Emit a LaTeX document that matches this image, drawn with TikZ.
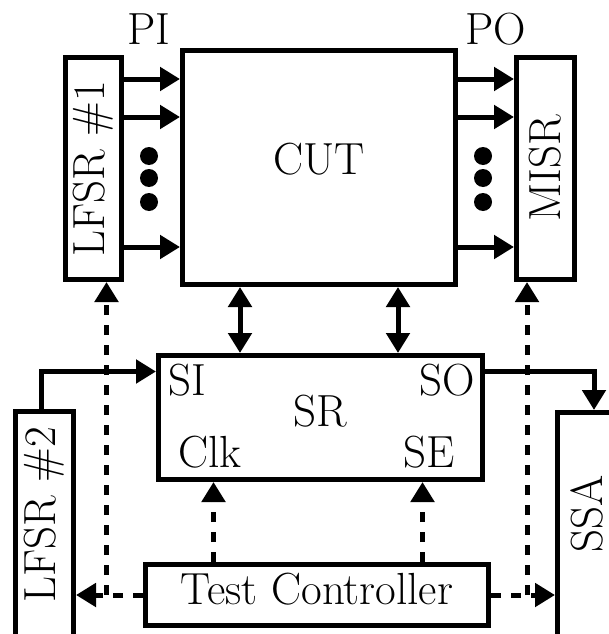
\documentclass[tikz,border=0pt]{standalone}
\usepackage{graphicx}
\usepackage{tikz}
\usetikzlibrary{arrows.meta,positioning}

\begin{document}
\begin{tikzpicture}[
  x=1pt, y=-1pt,
  every node/.style={font=\fontsize{45}{50}\selectfont},
  block/.style={draw, line width=5pt, inner sep=0pt},
  port/.style={inner sep=0pt},
  arrow/.style={-{Triangle[length=20pt,width=23pt]}, line width=5pt},
  dblarrow/.style={{Triangle[length=20pt,width=23pt]}-{Triangle[length=20pt,width=23pt]}, line width=5pt},
  dasharrow/.style={arrow, dash pattern=on 10pt off 10pt}
]
\useasboundingbox (0,0) rectangle (609,634);
\clip (0,0) rectangle (609,634);

% blocks
\node[block, minimum width=273pt, minimum height=234pt, text depth=18pt] (cut) at (319,167.5) {CUT};
\node[block, minimum width=56pt, minimum height=222pt] (lfsrA) at (93.5,168.5) {\rotatebox{90}{LFSR \#1}};
\node[block, minimum width=58pt, minimum height=222pt] (misr) at (545.5,168.5) {\rotatebox{90}{MISR}};
\node[block, minimum width=324pt, minimum height=124pt, text depth=13pt] (sr) at (320.5,417.5) {SR};
\node[block, minimum width=343pt, minimum height=61pt, text depth=12pt] (tc) at (317,595) {Test Controller};
\node[block, anchor=north, minimum width=58pt, inner ysep=15.5pt, text depth=47.5pt] (lfsrB) at (44.5,409) {\rotatebox{90}{LFSR \#2}};
\node[block, anchor=north, minimum width=58pt, inner ysep=62.5pt, text depth=56pt] (ssa) at (586.5,410) {\rotatebox{90}{SSA}};

% labels
\node[anchor=base] (pi) at (149,45) {PI};
\node[anchor=base] (po) at (496,45) {PO};
\node[port, anchor=base west] (srSI) at (168,395) {SI};
\node[port, anchor=base east] (srSO) at (475,395) {SO};
\node[port, anchor=base west] (srClk) at (178,467) {Clk};
\node[port, anchor=base east] (srSE) at (455,467) {SE};

% PI / PO buses
\foreach \y in {79,117,247} {
  \draw[arrow] (lfsrA.east |- 0,\y) -- (cut.west |- 0,\y);
  \draw[arrow] (cut.east |- 0,\y) -- (misr.west |- 0,\y);
}
\foreach \y in {156,178,202} {
  \fill (149,\y) circle (9pt);
  \fill (483,\y) circle (9pt);
}

% scan path
\foreach \x in {240,398}
  \draw[dblarrow] (cut.south -| \x,0) -- (sr.north -| \x,0);
\draw[arrow] ([xshift=-3pt]lfsrB.north) |- (sr.west |- 0,371.5);
\draw[arrow] (sr.east |- 0,371.5) -| ([xshift=7.5pt]ssa.north);

% control
\foreach \x in {213.5,422.5}
  \draw[dasharrow] (tc.north -| \x,0) -- (sr.south -| \x,0);
\coordinate (tapL) at (tc.west -| 106.5,0);
\coordinate (tapR) at (tc.east -| 527,0);
\draw[dasharrow] (tc.west) -- (lfsrB.east |- tc.west);
\draw[dasharrow] (tapL) -- (tapL |- lfsrA.south);
\draw[dasharrow] (tc.east) -- (ssa.west |- tc.east);
\draw[dasharrow] (tapR) -- (tapR |- misr.south);
\end{tikzpicture}
\end{document}
